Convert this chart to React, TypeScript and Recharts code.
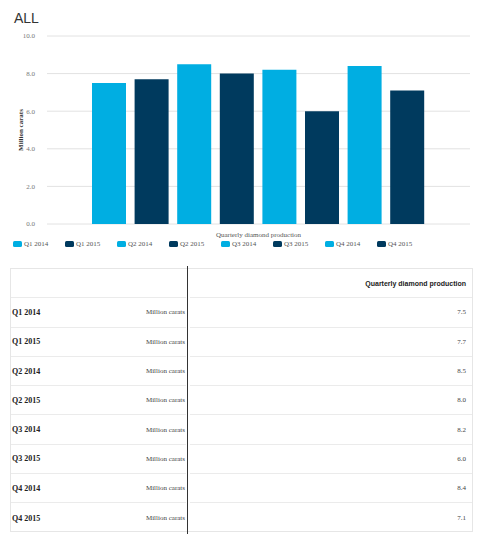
import React from "react";
import { Bar, BarChart, CartesianGrid, Legend, XAxis, YAxis } from "recharts";

const category = "Quarterly diamond production";
const quarters = ["Q1 2014", "Q1 2015", "Q2 2014", "Q2 2015", "Q3 2014", "Q3 2015", "Q4 2014", "Q4 2015"];
const carats = [7.5, 7.7, 8.5, 8.0, 8.2, 6.0, 8.4, 7.1];
const yTicks = [0, 2, 4, 6, 8, 10];
const unitLabel = "Million carats";

const LIGHT = "#00aee2";
const DARK = "#003a5e";
const colorFor = (i: number) => (i % 2 === 0 ? LIGHT : DARK);

const chartRow: Record<string, string | number> = { name: category };
quarters.forEach((q, i) => {
  chartRow[q] = carats[i];
});
const chartData = [chartRow];

const serif = "'Liberation Serif', 'DejaVu Serif', serif";
const sans = "'Liberation Sans', Arial, sans-serif";

function LegendRow() {
  return (
    <div style={{ display: "flex", paddingLeft: 13 }}>
      {quarters.map((q, i) => (
        <div key={q} style={{ width: 52, display: "flex", alignItems: "center" }}>
          <span
            style={{
              width: 9,
              height: 6,
              borderRadius: 1.5,
              backgroundColor: colorFor(i),
              marginRight: 2,
              display: "inline-block",
            }}
          />
          <span style={{ fontFamily: serif, fontSize: 7, color: "#555" }}>{q}</span>
        </div>
      ))}
    </div>
  );
}

function YLabel() {
  return (
    <text
      x={21}
      y={130}
      transform="rotate(-90 21 130)"
      textAnchor="middle"
      dominantBaseline="central"
      fontFamily={serif}
      fontSize={7}
      fontWeight="bold"
      fill="#333"
    >
      {unitLabel}
    </text>
  );
}

const ROW_H = 29.3;

export default function App() {
  return (
    <div style={{ position: "absolute", left: 0, top: 0, width: 480, height: 543, background: "#fff" }}>
      <div
        style={{
          position: "absolute",
          left: 14,
          top: 10,
          fontFamily: sans,
          fontSize: 14,
          color: "#333",
        }}
      >
        ALL
      </div>
      <div style={{ position: "absolute", left: 0, top: 0 }}>
        <BarChart
          width={480}
          height={256}
          data={chartData}
          margin={{ top: 36, right: 10, left: 0, bottom: 10 }}
          barSize={34}
          barGap={8.6}
        >
          <CartesianGrid vertical={false} stroke="#e2e2e2" />
          <XAxis
            dataKey="name"
            axisLine={false}
            tickLine={false}
            height={14}
            tickMargin={2}
            tick={{ fontSize: 7, fontFamily: serif, fill: "#555" }}
          />
          <YAxis
            width={47}
            domain={[0, 10]}
            ticks={yTicks}
            axisLine={false}
            tickLine={false}
            tickMargin={6}
            tickFormatter={(v: number) => v.toFixed(1)}
            tick={{ fontSize: 7, fontFamily: serif, fill: "#777" }}
            label={<YLabel />}
          />
          <Legend
            content={() => <LegendRow />}
            wrapperStyle={{ left: 0, top: 240, width: 480 }}
          />
          {quarters.map((q, i) => (
            <Bar key={q} dataKey={q} fill={colorFor(i)} isAnimationActive={false} />
          ))}
        </BarChart>
      </div>

      <div
        style={{
          position: "absolute",
          left: 10,
          top: 268,
          width: 463,
          height: 264,
          border: "1px solid #e6e6e6",
          boxSizing: "border-box",
        }}
      >
        <div style={{ display: "flex", height: ROW_H }}>
          <div style={{ width: 175, borderBottom: "1.5px solid #ebebeb" }} />
          <div
            style={{
              flex: 1,
              marginLeft: 4,
              borderBottom: "1.5px solid #ebebeb",
              display: "flex",
              alignItems: "center",
              justifyContent: "flex-end",
              paddingRight: 6,
              fontFamily: sans,
              fontWeight: "bold",
              fontSize: 7,
              color: "#222",
            }}
          >
            {category}
          </div>
        </div>
        {quarters.map((q, i) => (
          <div key={q} style={{ display: "flex", height: ROW_H }}>
            <div
              style={{
                width: 175,
                borderBottom: i < quarters.length - 1 ? "1.5px solid #ebebeb" : "none",
                display: "flex",
                alignItems: "center",
                justifyContent: "space-between",
                paddingLeft: 1,
                paddingRight: 1,
                boxSizing: "border-box",
              }}
            >
              <span style={{ fontFamily: serif, fontWeight: "bold", fontSize: 8, color: "#222" }}>{q}</span>
              <span style={{ fontFamily: serif, fontSize: 7, color: "#444" }}>{unitLabel}</span>
            </div>
            <div
              style={{
                flex: 1,
                marginLeft: 4,
                borderBottom: i < quarters.length - 1 ? "1.5px solid #ebebeb" : "none",
                display: "flex",
                alignItems: "center",
                justifyContent: "flex-end",
                paddingRight: 6,
                fontFamily: serif,
                fontSize: 7,
                color: "#444",
              }}
            >
              {carats[i].toFixed(1)}
            </div>
          </div>
        ))}
      </div>
      <div
        style={{
          position: "absolute",
          left: 187,
          top: 266,
          width: 1,
          height: 268,
          background: "#333",
        }}
      />
    </div>
  );
}
